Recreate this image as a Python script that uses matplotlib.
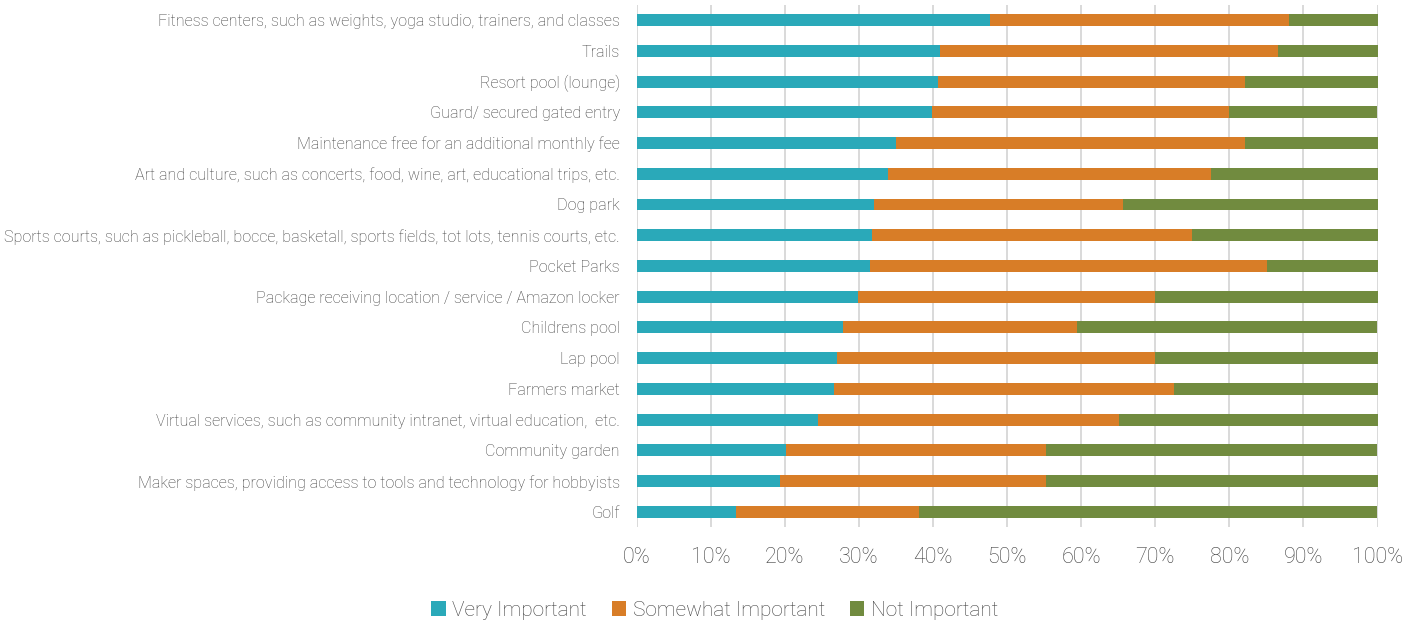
import numpy as np
import matplotlib.pyplot as plt
from matplotlib.ticker import PercentFormatter

plt.rcParams['font.family'] = ['Roboto', 'DejaVu Sans']
plt.rcParams['font.weight'] = 'light'

# categories, top to bottom
amenities = [
    "Fitness centers, such as weights, yoga studio, trainers, and classes",
    "Trails",
    "Resort pool (lounge)",
    "Guard/ secured gated entry",
    "Maintenance free for an additional monthly fee",
    "Art and culture, such as concerts, food, wine, art, educational trips, etc.",
    "Dog park",
    "Sports courts, such as pickleball, bocce, basketall, sports fields, tot lots, tennis courts, etc.",
    "Pocket Parks",
    "Package receiving location / service / Amazon locker",
    "Childrens pool",
    "Lap pool",
    "Farmers market",
    "Virtual services, such as community intranet, virtual education,  etc.",
    "Community garden",
    "Maker spaces, providing access to tools and technology for hobbyists",
    "Golf",
]

# shares in percent
very_important = [47.7, 41.0, 40.7, 39.9, 35.0, 34.0, 32.1, 31.8, 31.5, 29.9, 27.8, 27.0, 26.7, 24.5, 20.2, 19.4, 13.4]
somewhat_important = [40.4, 45.5, 41.4, 40.1, 47.1, 43.5, 33.5, 43.1, 53.6, 40.1, 31.6, 43.0, 45.8, 40.6, 35.1, 35.9, 24.7]
not_important = [11.9, 13.5, 17.9, 19.9, 17.9, 22.5, 34.4, 25.1, 14.9, 30.0, 40.5, 30.0, 27.5, 34.9, 44.6, 44.7, 61.8]

series_names = ["Very Important", "Somewhat Important", "Not Important"]
colors = ["#2AA9B9", "#D87D27", "#718B3F"]
text_col = "#3F3F3F"

fig = plt.figure(figsize=(14.18, 6.24), dpi=100)
ax = fig.add_axes([0.4489, 0.155, 0.5226, 0.8375])

y = np.arange(len(amenities))
left = np.zeros(len(amenities))
for vals, name, col in zip([very_important, somewhat_important, not_important], series_names, colors):
    vals = np.array(vals)
    ax.barh(y, vals, left=left, height=0.39, color=col, label=name, zorder=3)
    left += vals

ax.set_ylim(len(amenities) - 0.5, -0.5)
ax.set_xlim(0, 100)
ax.set_yticks(y)
ax.set_yticklabels(amenities, fontsize=11.6, color=text_col)
ax.set_xticks(np.arange(0, 101, 10))
ax.xaxis.set_major_formatter(PercentFormatter(decimals=0))
ax.tick_params(axis="x", labelsize=15.5, colors=text_col, length=0, pad=14)
ax.tick_params(axis="y", length=0, pad=12)
ax.grid(axis="x", color="#D9D9D9", linewidth=1.4, zorder=0)
for s in ax.spines.values():
    s.set_visible(False)

fig.legend(loc="center", bbox_to_anchor=(0.504, 0.022), ncol=3, frameon=False,
           fontsize=15, labelcolor=text_col, handlelength=0.7, handleheight=0.7,
           handletextpad=0.3, columnspacing=1.2)

fig.savefig("out.png", dpi=100)
